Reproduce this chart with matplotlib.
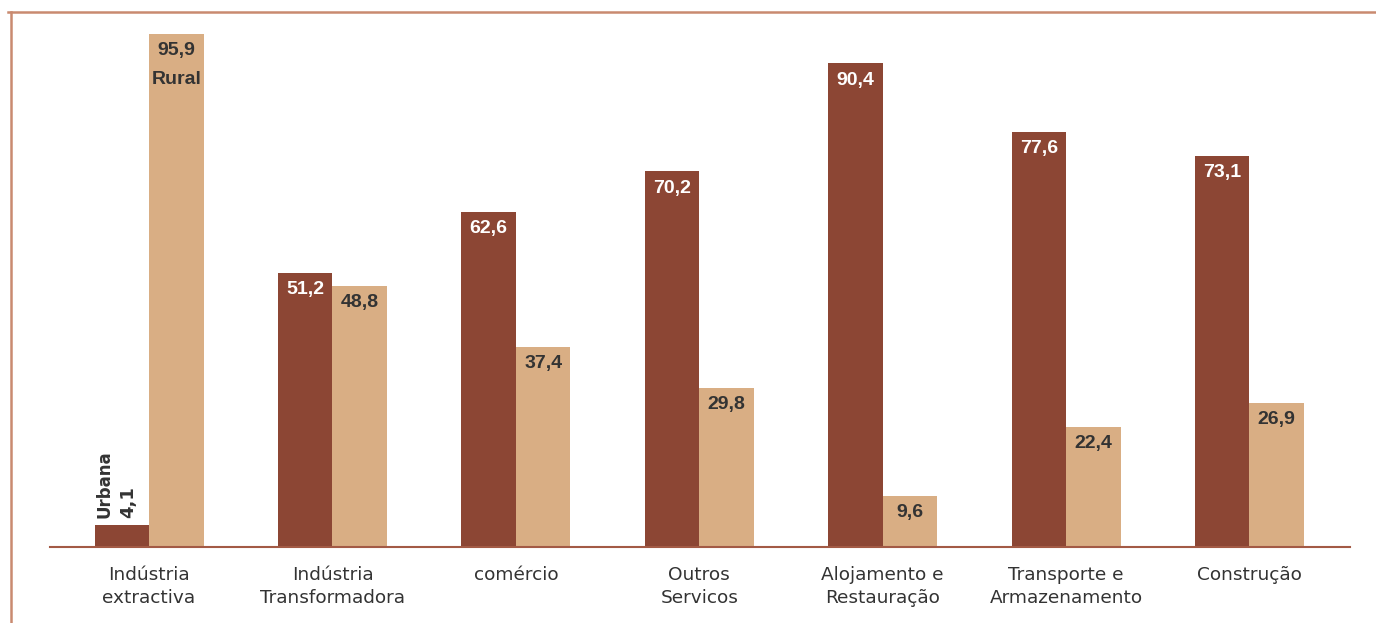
import matplotlib
matplotlib.use('Agg')
import matplotlib.pyplot as plt
from matplotlib.lines import Line2D
import numpy as np

categorias = ['Indústria\nextractiva', 'Indústria\nTransformadora', 'comércio',
              'Outros\nServicos', 'Alojamento e\nRestauração',
              'Transporte e\nArmazenamento', 'Construção']
urbana = [4.1, 51.2, 62.6, 70.2, 90.4, 77.6, 73.1]
rural = [95.9, 48.8, 37.4, 29.8, 9.6, 22.4, 26.9]

cor_urbana = '#8C4634'
cor_rural = '#D9AE84'
cor_borda = '#C98A70'
num_font = ['Liberation Sans', 'DejaVu Sans']

W, H = 1376, 623
fig = plt.figure(figsize=(W / 100, H / 100), dpi=100)
fig.patch.set_facecolor('white')

# axes placed in pixel units: baseline at y=547, top at y=12
ax = fig.add_axes([50 / W, (H - 547) / H, 1300 / W, 535 / H])
ax.set_xlim(-0.54, 6.548)
ax.set_ylim(0, 100)
for s in ax.spines.values():
    s.set_visible(False)
ax.spines['bottom'].set_visible(True)
ax.spines['bottom'].set_color('#A35A45')
ax.spines['bottom'].set_linewidth(1.5)
ax.set_yticks([])
ax.tick_params(axis='x', length=0, pad=14)

x = np.arange(len(categorias))
w = 0.297
b1 = ax.bar(x - w / 2, urbana, w, color=cor_urbana)
b2 = ax.bar(x + w / 2, rural, w, color=cor_rural)
ax.set_xticks(x)
ax.set_xticklabels(categorias, fontsize=13.3, color='#333333', linespacing=1.35)

for i, v in enumerate(urbana):
    txt = f'{v:.1f}'.replace('.', ',')
    if v < 10:
        ax.annotate(txt, (x[i] - w / 2, v), xytext=(-2, 5), textcoords='offset points',
                    rotation=90, ha='left', va='bottom', fontsize=13, fontweight='bold',
                    color='#333333')
        ax.annotate('Urbana', (x[i] - w / 2, v), xytext=(-19, 5), textcoords='offset points',
                    rotation=90, ha='left', va='bottom', fontsize=12, fontweight='bold',
                    color='#333333')
    else:
        ax.annotate(txt, (x[i] - w / 2, v), xytext=(0, -12), textcoords='offset points',
                    ha='center', va='center', fontsize=14, fontweight='bold',
                    color='white', family=num_font)

for i, v in enumerate(rural):
    txt = f'{v:.1f}'.replace('.', ',')
    ax.annotate(txt, (x[i] + w / 2, v), xytext=(0, -12), textcoords='offset points',
                ha='center', va='center', fontsize=14, fontweight='bold',
                color='#333333', family=num_font)
    if i == 0:
        ax.annotate('Rural', (x[i] + w / 2, v), xytext=(0, -33), textcoords='offset points',
                    ha='center', va='center', fontsize=14, fontweight='bold',
                    color='#333333', family=num_font)

# frame lines (top and left)
fig.add_artist(Line2D([8 / W, 1], [(H - 12) / H] * 2, color=cor_borda, lw=1.8,
                      transform=fig.transFigure))
fig.add_artist(Line2D([11 / W] * 2, [0, (H - 12) / H], color=cor_borda, lw=1.8,
                      transform=fig.transFigure))

fig.savefig('out.png', dpi=100, facecolor='white')
